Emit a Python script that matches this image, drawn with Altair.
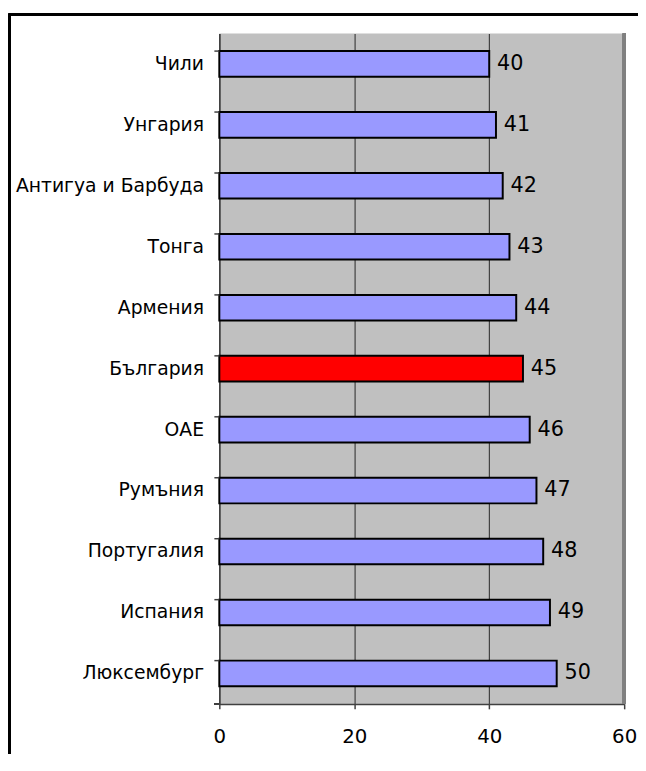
import altair as alt
import pandas as pd

countries = ["Чили", "Унгария", "Антигуа и Барбуда", "Тонга", "Армения", "България",
             "ОАЕ", "Румъния", "Португалия", "Испания", "Люксембург"]
values = [40, 41, 42, 43, 44, 45, 46, 47, 48, 49, 50]
highlight = "България"
x_ticks = [0, 20, 40, 60]

df = pd.DataFrame({"country": countries, "value": values})

FONT = "DejaVu Sans"
W, H = 410, 679

y_enc = alt.Y("country:N", sort=countries, title=None,
              scale=alt.Scale(paddingInner=0.58, paddingOuter=0.29),
              axis=alt.Axis(ticks=False, domain=True, domainColor="#404040", domainWidth=1.5,
                            labelFont=FONT, labelFontSize=19, labelColor="#000000",
                            labelPadding=16, labelLimit=300))

bars = alt.Chart(df).mark_bar(stroke="#000000", strokeWidth=2).encode(
    x=alt.X("value:Q", title=None, scale=alt.Scale(domain=[0, 60], nice=False),
            axis=alt.Axis(values=x_ticks, grid=True, gridColor="#404040", gridWidth=1.2,
                          domain=True, domainColor="#404040", domainWidth=1.5,
                          tickColor="#404040", tickSize=5, tickWidth=1.5,
                          labelFont=FONT, labelFontSize=20, labelColor="#000000",
                          labelPadding=18, labelFlush=False)),
    y=y_enc,
    color=alt.condition(alt.datum.country == highlight, alt.value("#FF0000"), alt.value("#9999FF")),
)

labels = alt.Chart(df).mark_text(align="left", baseline="middle", dx=8,
                                 font=FONT, fontSize=21, color="#000000").encode(
    x="value:Q",
    y=alt.Y("country:N", sort=countries),
    text="value:Q",
)

ytick = alt.Chart(df).mark_rule(color="#404040", strokeWidth=1.5).encode(
    x=alt.value(-5), x2=alt.value(0),
    y=alt.Y("country:N", sort=countries, bandPosition=0),
)
ytick_end = alt.Chart(df).mark_rule(color="#404040", strokeWidth=1.5).encode(
    x=alt.value(-5), x2=alt.value(0), y=alt.value(H)
)
right_edge = alt.Chart(df).mark_rule(color="#808080", strokeWidth=3).encode(
    x=alt.value(W), y=alt.value(0), y2=alt.value(H)
)
border_top = alt.Chart(df).mark_rule(color="#000000", strokeWidth=2.5).encode(
    x=alt.value(-212.5), x2=alt.value(440), y=alt.value(-19)
)
border_left = alt.Chart(df).mark_rule(color="#000000", strokeWidth=2.5).encode(
    x=alt.value(-212.5), y=alt.value(-20), y2=alt.value(780)
)

chart = alt.layer(bars, labels, ytick, ytick_end, right_edge, border_top, border_left).properties(
    width=W, height=H,
    autosize=alt.AutoSizeParams(type="none"),
    padding={"left": 214, "top": 21, "right": 14, "bottom": 46},
    background="#FFFFFF",
).configure_view(fill="#C0C0C0", stroke=None)

chart.save("out.html", embed_options={"renderer": "svg", "actions": False})
